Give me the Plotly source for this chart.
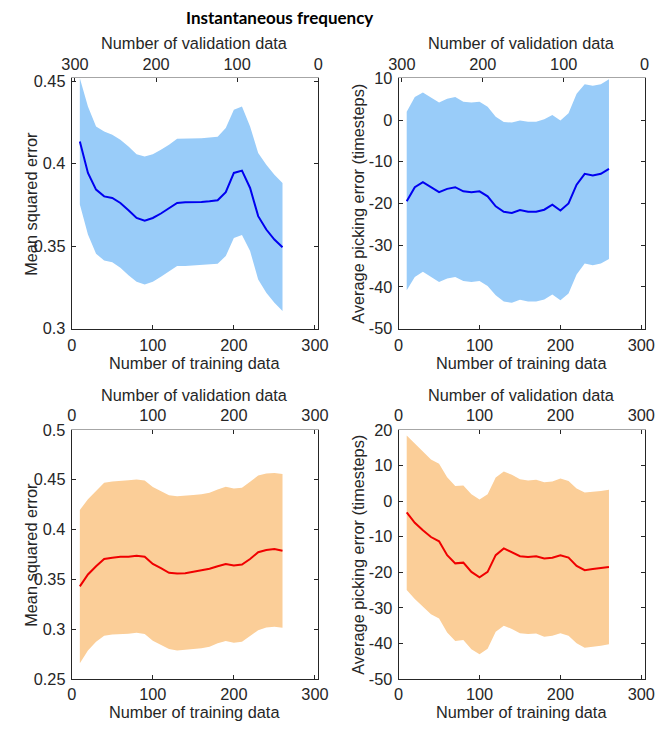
import plotly.graph_objects as go

# Training-set sizes used in the learning-curve experiment
n_train = [10, 20, 30, 40, 50, 60, 70, 80, 90, 100, 110, 120, 130, 140, 150,
           160, 170, 180, 190, 200, 210, 220, 230, 240, 250, 260]
n_total = 304  # validation = total - training

# --- Panel A: mean squared error, first model (blue)
mse_a_mean = [0.4135, 0.3944, 0.3843, 0.3802, 0.3792, 0.3762, 0.3718, 0.3671, 0.3655,
              0.3671, 0.3698, 0.3732, 0.3762, 0.3766, 0.3766, 0.3768, 0.3772, 0.3778,
              0.3827, 0.3944, 0.3958, 0.3853, 0.3682, 0.3601, 0.3540, 0.3494]
mse_a_upper = [0.4518, 0.4347, 0.4226, 0.4196, 0.4175, 0.4145, 0.4105, 0.4058, 0.4044,
               0.4058, 0.4085, 0.4115, 0.4151, 0.4151, 0.4151, 0.4155, 0.4159, 0.4163,
               0.4216, 0.4327, 0.4347, 0.4226, 0.4065, 0.3994, 0.3933, 0.3883]
mse_a_lower = [0.3752, 0.3571, 0.3454, 0.3413, 0.3403, 0.3369, 0.3323, 0.3284, 0.3268,
               0.3284, 0.3315, 0.3345, 0.3379, 0.3379, 0.3379, 0.3383, 0.3389, 0.3393,
               0.3440, 0.3550, 0.3567, 0.3470, 0.3298, 0.3218, 0.3157, 0.3107]

# --- Panel B: average picking error, first model (blue)
pick_b_mean = [-19.5, -16.1, -14.9, -16.1, -17.3, -16.5, -16.1, -17.1, -17.3, -17.1,
               -18.3, -20.7, -22.0, -22.3, -21.6, -22.0, -22.0, -21.5, -20.3, -21.7,
               -20.0, -15.5, -12.9, -13.3, -12.9, -11.7]
pick_b_upper = [2.0, 5.5, 6.6, 5.4, 4.2, 5.1, 5.5, 4.4, 4.2, 4.4, 3.2, 0.8, -0.5, -0.6,
                -0.1, -0.4, -0.4, 0.2, 1.2, -0.1, 1.6, 6.3, 8.6, 8.2, 8.6, 9.8]
pick_b_lower = [-40.8, -37.6, -36.4, -37.6, -38.8, -38.0, -37.6, -38.6, -38.8, -38.6,
                -39.8, -42.0, -43.5, -43.8, -43.1, -43.5, -43.5, -43.0, -41.8, -43.2,
                -41.6, -37.0, -34.4, -34.8, -34.4, -33.3]

# --- Panel C: mean squared error, second model (red)
mse_c_mean = [0.3430, 0.3549, 0.3632, 0.3705, 0.3718, 0.3728, 0.3728, 0.3738, 0.3728,
              0.3655, 0.3612, 0.3566, 0.3559, 0.3562, 0.3576, 0.3589, 0.3606, 0.3632,
              0.3655, 0.3639, 0.3649, 0.3705, 0.3772, 0.3795, 0.3805, 0.3788]
mse_c_upper = [0.4197, 0.4303, 0.4386, 0.4469, 0.4482, 0.4492, 0.4495, 0.4502, 0.4492,
               0.4426, 0.4386, 0.4343, 0.4333, 0.4336, 0.4346, 0.4353, 0.4369, 0.4402,
               0.4429, 0.4412, 0.4419, 0.4479, 0.4542, 0.4562, 0.4568, 0.4558]
mse_c_lower = [0.2659, 0.2786, 0.2875, 0.2935, 0.2948, 0.2955, 0.2955, 0.2965, 0.2952,
               0.2885, 0.2842, 0.2802, 0.2786, 0.2789, 0.2799, 0.2809, 0.2825, 0.2859,
               0.2882, 0.2865, 0.2875, 0.2932, 0.2991, 0.3018, 0.3025, 0.3015]

# --- Panel D: average picking error, second model (red)
pick_d_mean = [-3.2, -6.1, -8.2, -10.1, -11.3, -15.2, -17.5, -17.3, -19.9, -21.4,
               -19.9, -15.2, -13.3, -14.3, -15.5, -15.7, -15.5, -16.1, -15.9, -15.2,
               -15.9, -18.2, -19.4, -19.1, -18.8, -18.5]
pick_d_upper = [18.4, 16.1, 13.9, 11.7, 10.5, 6.7, 4.2, 4.4, 1.9, 0.4, 1.9, 6.6, 8.3,
                7.4, 6.1, 5.8, 6.0, 5.3, 5.5, 6.3, 5.6, 3.5, 2.4, 2.5, 2.8, 3.2]
pick_d_lower = [-25.0, -27.5, -29.7, -31.8, -33.0, -36.9, -39.3, -39.0, -41.6, -43.0,
                -41.5, -36.7, -35.0, -35.9, -37.1, -37.3, -37.2, -38.1, -37.8, -37.1,
                -37.8, -39.9, -41.2, -40.9, -40.6, -40.2]

# Axis ticks
x_ticks = [0, 100, 200, 300]
mse_top_ticks = [0.3, 0.35, 0.4, 0.45]
mse_bot_ticks = [0.25, 0.3, 0.35, 0.4, 0.45, 0.5]
pick_top_ticks = [-50, -40, -30, -20, -10, 0, 10]
pick_bot_ticks = [-50, -40, -30, -20, -10, 0, 10, 20]

W, H = 659, 729
# Positions below are given in on-screen pixels; the paper appears as a
# 649 x 713 frame whose corner sits at (3, 7).
FX0, FY0, FW, FH = 3.0, 7.0, 649.0, 713.0
S = 0.98  # on-screen size of one layout pixel


def px(X):
    return (X - FX0) / FW


def py(Y):
    return 1 - (Y - FY0) / FH


TXT = "#262626"
FONT = "Liberation Sans, Arial, sans-serif"
FS = 16 / S
BLUE_BAND, BLUE_LINE = "#99CCF9", "#0000F0"
ORANGE_BAND, RED_LINE = "#FBCE98", "#F00000"

# Panel boxes in on-screen pixels: (left, right, top, bottom)
boxes = {
    1: (65.7, 316.0, 76.5, 327.5),
    2: (397.7, 647.5, 76.5, 327.5),
    3: (65.7, 316.0, 429.0, 679.0),
    4: (397.7, 647.5, 429.0, 679.0),
}

panels = [
    (1, mse_a_mean, mse_a_upper, mse_a_lower, BLUE_BAND, BLUE_LINE,
     [0.3, 0.4518], mse_top_ticks, "Mean squared error", True),
    (2, pick_b_mean, pick_b_upper, pick_b_lower, BLUE_BAND, BLUE_LINE,
     [-50, 10], pick_top_ticks, "Average picking error (timesteps)", True),
    (3, mse_c_mean, mse_c_upper, mse_c_lower, ORANGE_BAND, RED_LINE,
     [0.25, 0.5], mse_bot_ticks, "Mean squared error", False),
    (4, pick_d_mean, pick_d_upper, pick_d_lower, ORANGE_BAND, RED_LINE,
     [-50, 20], pick_bot_ticks, "Average picking error (timesteps)", False),
]


def fmt(v):
    return f"{v:g}"


fig = go.Figure()
layout = {}
annotations = []

for i, mean, upper, lower, band, line, yrange, yticks, ylabel, top_row in panels:
    l, r, t, b = boxes[i]
    xs = "" if i == 1 else str(i)
    xa, ya, xt = f"x{xs}", f"y{xs}", f"x{i + 4}"

    # shaded spread band
    fig.add_trace(go.Scatter(
        x=n_train + n_train[::-1], y=upper + lower[::-1],
        fill="toself", fillcolor=band, line=dict(width=0),
        mode="lines", hoverinfo="skip", showlegend=False,
        xaxis=xa, yaxis=ya))
    # mean curve
    fig.add_trace(go.Scatter(
        x=n_train, y=mean, mode="lines", line=dict(color=line, width=2),
        showlegend=False, xaxis=xa, yaxis=ya))
    # same curve against validation count, carried by the top axis
    n_val = [n_total - n for n in n_train]
    fig.add_trace(go.Scatter(
        x=n_val, y=mean, mode="lines", line=dict(width=0, color="rgba(0,0,0,0)"),
        hoverinfo="skip", showlegend=False, xaxis=xt, yaxis=ya))

    dom_x = [px(l), px(r)]
    dom_y = [py(b), py(t)]
    common = dict(showgrid=False, zeroline=False, ticks="inside", ticklen=4,
                  tickcolor=TXT, tickfont=dict(family=FONT, size=FS, color=TXT))

    layout[f"xaxis{xs}"] = dict(
        domain=dom_x, anchor=ya, range=[0, n_total], tickvals=x_ticks,
        ticktext=[fmt(v) for v in x_ticks], showline=True, linecolor=TXT,
        linewidth=1, ticklabelstandoff=2 if top_row else 0, **common)
    layout[f"xaxis{i + 4}"] = dict(
        domain=dom_x, anchor=ya, overlaying=xa, side="top",
        range=[n_total, 0] if top_row else [0, n_total],
        tickvals=x_ticks, ticktext=[fmt(v) for v in x_ticks],
        showline=True, linecolor="#a6a6a6", linewidth=1, ticklabelstandoff=1,
        **common)
    layout[f"yaxis{xs}"] = dict(
        domain=dom_y, anchor=xa, range=yrange, tickvals=yticks,
        ticktext=[fmt(v) for v in yticks], showline=True, linecolor=TXT,
        linewidth=1, mirror="ticks", ticklabelstandoff=2, **common)

    # axis titles
    cx = (l + r) / 2
    annotations.append(dict(
        text="Number of validation data", x=px(cx), y=py(t - 35),
        xref="paper", yref="paper", showarrow=False, xanchor="center",
        yanchor="middle", font=dict(family=FONT, size=FS, color=TXT)))
    annotations.append(dict(
        text="Number of training data", x=px(cx), y=py(b + (34 if top_row else 33)),
        xref="paper", yref="paper", showarrow=False, xanchor="center",
        yanchor="middle", font=dict(family=FONT, size=FS, color=TXT)))
    annotations.append(dict(
        text=ylabel, x=px(l - 41), y=py((t + b) / 2),
        xref="paper", yref="paper", showarrow=False, textangle=-90,
        xanchor="center", yanchor="middle",
        font=dict(family=FONT, size=FS, color=TXT)))

annotations.append(dict(
    text="<b>Instantaneous frequency</b>", x=px(277), y=py(16),
    xref="paper", yref="paper", showarrow=False, xanchor="center",
    yanchor="middle", font=dict(family="Lato, Open Sans, sans-serif", size=17,
                                color="#000000")))

fig.update_layout(
    width=W, height=H, margin=dict(l=0, r=0, t=0, b=0),
    paper_bgcolor="white", plot_bgcolor="white",
    annotations=annotations, **layout)

fig.write_html("out.html")
